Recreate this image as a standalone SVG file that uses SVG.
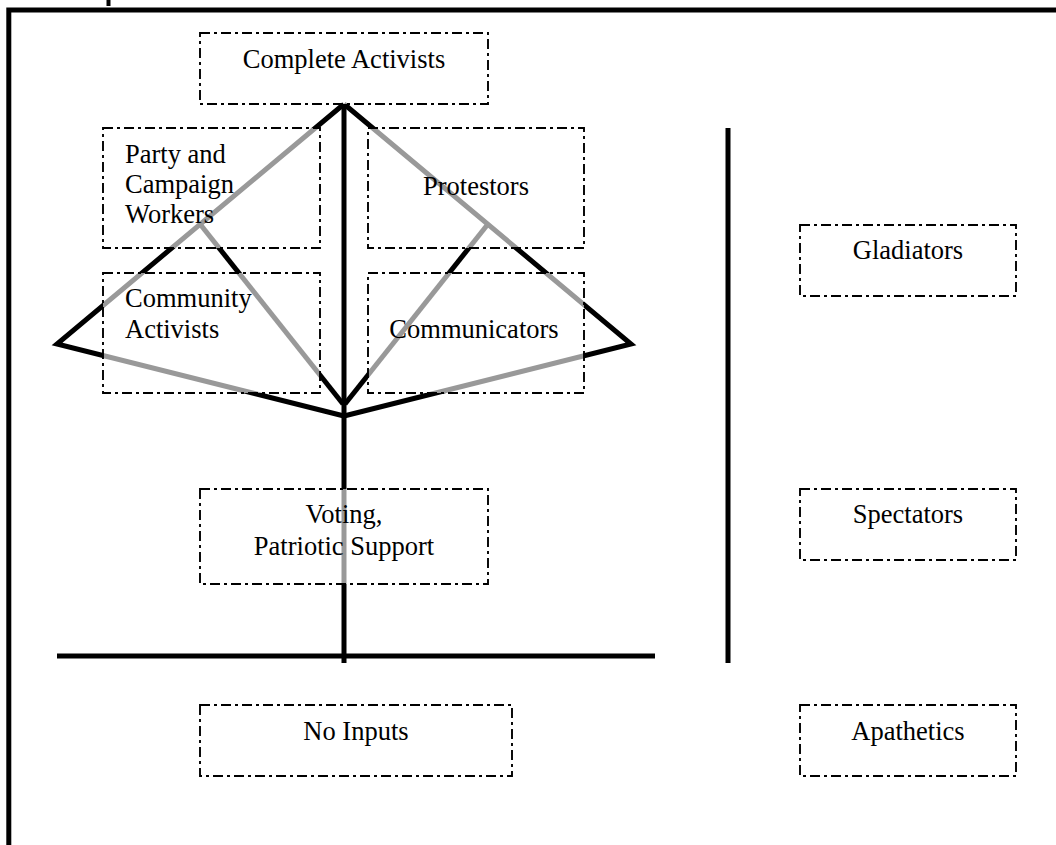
<svg xmlns="http://www.w3.org/2000/svg" width="1056" height="845" viewBox="0 0 1056 845">
<style>
.box{fill:#fff;fill-opacity:0.6;stroke:#000;stroke-width:1.9;stroke-dasharray:10 4 3 4}
.ln{fill:none;stroke:#000;stroke-width:5;stroke-linejoin:miter;stroke-linecap:butt}
text{font-family:"Liberation Serif","Times New Roman",serif;font-size:26.5px;fill:#000}
.c{text-anchor:middle}
</style>
<rect width="1056" height="845" fill="#fff"/>
<g id="frame">
<path class="ln" d="M8.8,845 V10 H1056" stroke-width="4.5"/>
<rect x="106.5" y="0" width="4" height="6" fill="#000"/>
</g>
<g id="connectors">
<path class="ln" d="M344,104 V663"/>
<path class="ln" d="M57,656 H655"/>
<path class="ln" d="M728,128 V663"/>
<path class="ln" d="M344,104 L57,344 L344,416"/>
<path class="ln" d="M200,224 L343,404"/>
<path class="ln" d="M344,104 L631,344 L344,416"/>
<path class="ln" d="M488,224 L345,404"/>
</g>
<g id="complete-activists"><rect class="box" x="200" y="33" width="288" height="71"/><text class="c" x="344" y="68">Complete Activists</text></g>
<g id="party-campaign-workers"><rect class="box" x="103" y="128" width="217" height="120"/><text x="125" y="163">Party and</text><text x="125" y="193">Campaign</text><text x="125" y="223">Workers</text></g>
<g id="community-activists"><rect class="box" x="103" y="273" width="217" height="120"/><text x="125" y="307">Community</text><text x="125" y="338">Activists</text></g>
<g id="protestors"><rect class="box" x="368" y="128" width="216" height="120"/><text class="c" x="476" y="195">Protestors</text></g>
<g id="communicators"><rect class="box" x="368" y="273" width="216" height="120"/><text class="c" x="474" y="338">Communicators</text></g>
<g id="voting"><rect class="box" x="200" y="489" width="288" height="95"/><text class="c" x="344" y="523">Voting,</text><text class="c" x="344" y="555">Patriotic Support</text></g>
<g id="no-inputs"><rect class="box" x="200" y="705" width="312" height="71"/><text class="c" x="356" y="740">No Inputs</text></g>
<g id="gladiators"><rect class="box" x="800" y="225" width="216" height="71"/><text class="c" x="908" y="259">Gladiators</text></g>
<g id="spectators"><rect class="box" x="800" y="489" width="216" height="71"/><text class="c" x="908" y="523">Spectators</text></g>
<g id="apathetics"><rect class="box" x="800" y="705" width="216" height="71"/><text class="c" x="908" y="740">Apathetics</text></g>
</svg>
